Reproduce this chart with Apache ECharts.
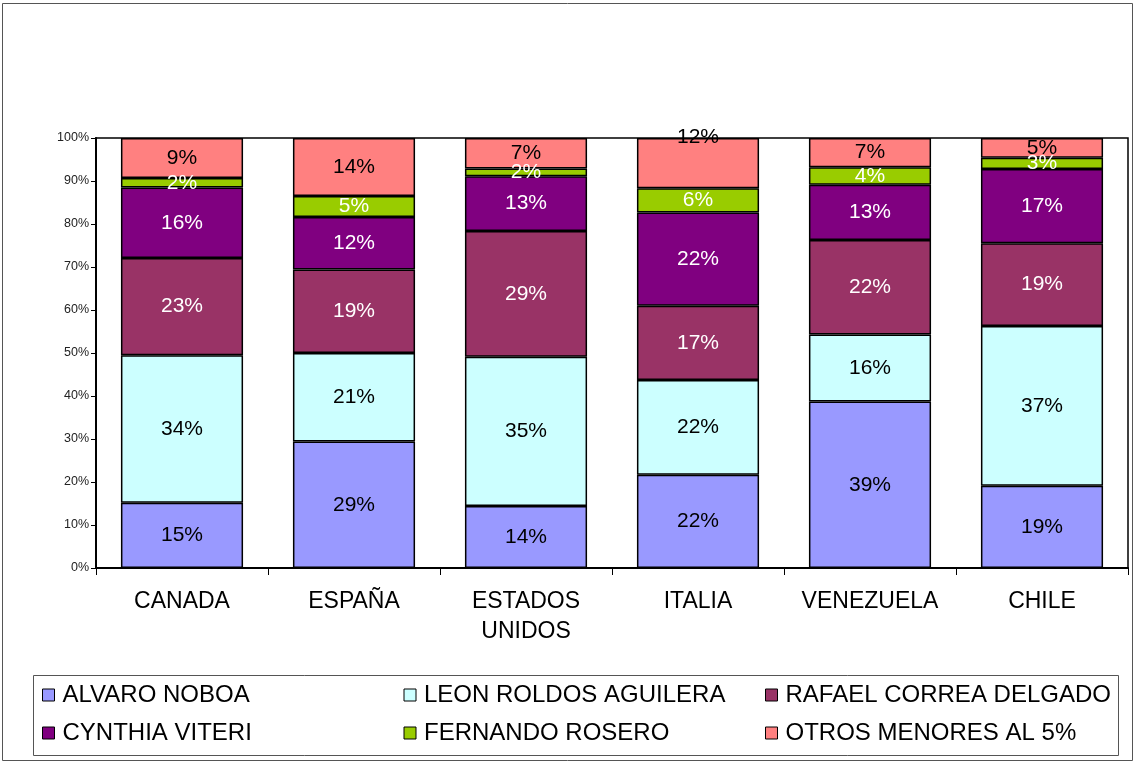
<!DOCTYPE html>
<html>
<head>
<meta charset="utf-8">
<script src="https://cdn.jsdelivr.net/npm/echarts@6/dist/echarts.min.js"></script>
<style>
  html, body { margin: 0; padding: 0; background: #fff; }
  #chart { width: 1134px; height: 762px; }
</style>
</head>
<body>
<div id="chart"></div>
<script>
// paises
const categories = ['CANADA', 'ESPAÑA', 'ESTADOS\nUNIDOS', 'ITALIA', 'VENEZUELA', 'CHILE'];

// % de votos por candidato
const alvaroNoboa     = [15.2, 29.4, 14.4, 21.7, 38.7, 19.1];
const leonRoldos      = [34.3, 20.6, 34.7, 22.0, 15.6, 37.2];
const rafaelCorrea    = [22.6, 19.4, 29.3, 17.3, 22.0, 19.2];
const cynthiaViteri   = [16.4, 12.2, 12.7, 21.7, 12.8, 17.3];
const fernandoRosero  = [2.2, 4.9, 1.8, 5.6, 4.1, 2.6];
const otrosMenores    = [9.3, 13.5, 7.1, 11.7, 6.8, 4.6];

const yTicks = [0, 10, 20, 30, 40, 50, 60, 70, 80, 90, 100];

const FONT = '"Liberation Sans", Arial, sans-serif';

const seriesDefs = [
  { name: 'ALVARO NOBOA', data: alvaroNoboa, color: '#9999FF', text: '#000' },
  { name: 'LEON ROLDOS AGUILERA', data: leonRoldos, color: '#CCFFFF', text: '#000' },
  { name: 'RAFAEL CORREA DELGADO', data: rafaelCorrea, color: '#993366', text: '#fff' },
  { name: 'CYNTHIA VITERI', data: cynthiaViteri, color: '#800080', text: '#fff' },
  { name: 'FERNANDO ROSERO', data: fernandoRosero, color: '#99CC00', text: '#fff' },
  { name: 'OTROS MENORES AL 5%', data: otrosMenores, color: '#FF8080', text: '#000' }
];

const chart = echarts.init(document.getElementById('chart'));

const series = seriesDefs.map(s => ({
  type: 'bar',
  name: s.name,
  stack: 'total',
  barWidth: '71%',
  itemStyle: { color: s.color, borderColor: '#000', borderWidth: 1.5 },
  label: {
    show: true,
    position: 'inside',
    color: s.text,
    fontFamily: FONT,
    fontSize: 21,
    formatter: p => Math.round(p.value) + '%'
  },
  data: s.data.map((v, i) => {
    // en ITALIA la etiqueta de OTROS queda pegada al borde superior
    if (s.name === 'OTROS MENORES AL 5%' && i === 3) {
      return { value: v, label: { offset: [0, -26] } };
    }
    return v;
  })
}));

chart.setOption({
  backgroundColor: '#fff',
  animation: false,
  grid: {
    left: 96,
    right: 6,
    top: 138,
    bottom: 194,
    show: true,
    borderColor: '#000',
    borderWidth: 1.5,
    backgroundColor: 'transparent'
  },
  legend: {
    left: 42,
    top: 682,
    width: 1085,
    padding: 0,
    icon: 'rect',
    itemWidth: 12,
    itemHeight: 12,
    itemGap: 12,
    selectedMode: false,
    itemStyle: { borderColor: '#000', borderWidth: 1 },
    textStyle: {
      fontFamily: FONT,
      fontSize: 24,
      color: '#000',
      width: 329,
      lineHeight: 26,
      padding: [0, 0, 0, 3]
    },
    data: seriesDefs.map(s => s.name)
  },
  xAxis: {
    type: 'category',
    data: categories,
    axisLine: { lineStyle: { color: '#000', width: 2 } },
    axisTick: { show: true, length: 7, alignWithLabel: false, lineStyle: { color: '#000', width: 1 } },
    axisLabel: {
      fontFamily: FONT,
      fontSize: 23,
      color: '#000',
      lineHeight: 30,
      margin: 19,
      interval: 0
    }
  },
  yAxis: {
    type: 'value',
    min: yTicks[0],
    max: yTicks[yTicks.length - 1],
    interval: 10,
    splitLine: { show: false },
    axisLine: { show: true, lineStyle: { color: '#000', width: 2 } },
    axisTick: { show: true, length: 5, lineStyle: { color: '#000', width: 1 } },
    axisLabel: {
      fontFamily: FONT,
      fontSize: 12.5,
      color: '#222',
      margin: 7,
      formatter: '{value}%'
    }
  },
  graphic: [
    {
      type: 'rect',
      z: -1,
      shape: { x: 2.5, y: 3.5, width: 1130, height: 757 },
      style: { fill: 'none', stroke: '#555', lineWidth: 1 }
    },
    {
      type: 'rect',
      z: -1,
      shape: { x: 33.5, y: 675.5, width: 1085, height: 80 },
      style: { fill: 'none', stroke: '#555', lineWidth: 1 }
    }
  ],
  series: series
});
</script>
</body>
</html>
